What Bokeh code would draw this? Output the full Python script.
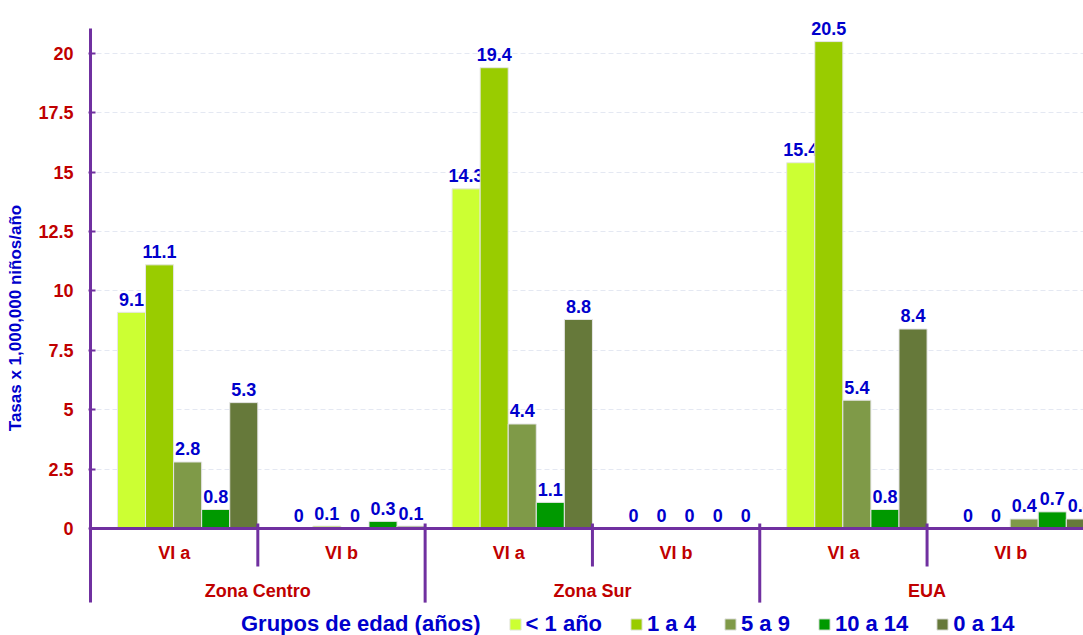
import numpy as np
from bokeh.plotting import figure
from bokeh.models import (ColumnDataSource, FixedTicker, Legend, LegendItem, Label, Range1d)
from bokeh.core.properties import value
from bokeh.embed import file_html
from bokeh.resources import INLINE

# ---------------- data ----------------
title_text = "Tasas de incidencia por zona y estado, por grupos de edad"
y_title = "Tasas x 1,000,000 niños/año"
legend_title = "Grupos de edad (años)"
zones = ["Zona Centro", "Zona Sur", "EUA"]
subgroups = ["VI a", "VI b", "VI a", "VI b", "VI a", "VI b"]
series = ["< 1 año", "1 a 4", "5 a 9", "10 a 14", "0 a 14"]
lt1 = [9.1, 0, 14.3, 0, 15.4, 0]
a1_4 = [11.1, 0.1, 19.4, 0, 20.5, 0]
a5_9 = [2.8, 0, 4.4, 0, 5.4, 0.4]
a10_14 = [0.8, 0.3, 1.1, 0, 0.8, 0.7]
a0_14 = [5.3, 0.1, 8.8, 0, 8.4, 0.4]
y_ticks = [0, 2.5, 5, 7.5, 10, 12.5, 15, 17.5, 20]
y_tick_labels = ["0", "2.5", "5", "7.5", "10", "12.5", "15", "17.5", "20"]

values = [lt1, a1_4, a5_9, a10_14, a0_14]
colors = ["#CCFF33", "#99CC00", "#7F9A48", "#009900", "#66793A"]

# ---------------- styles ----------------
FONT = value("Liberation Sans")
BLUE = "#0000CC"
RED = "#C00000"
PURPLE = "#7030A0"

p = figure(width=1083, height=635, output_backend="svg", toolbar_location=None,
           x_range=Range1d(-0.012, 5.935), y_range=Range1d(-4.505, 22.23),
           x_axis_location=None, min_border_left=88, min_border_right=0,
           min_border_top=0, min_border_bottom=0)
p.outline_line_color = None
p.xgrid.visible = False
p.ygrid.ticker = FixedTicker(ticks=y_ticks[1:])
p.ygrid.grid_line_color = "#E4E8F2"
p.ygrid.grid_line_dash = "5 3"
p.ygrid.grid_line_width = 1

ax = p.yaxis[0]
ax.ticker = FixedTicker(ticks=y_ticks)
ax.major_label_overrides = {t: l for t, l in zip(y_ticks, y_tick_labels)}
ax.axis_line_color = None
ax.major_tick_in = 7
ax.major_tick_out = 0
ax.major_tick_line_color = PURPLE
ax.major_tick_line_width = 2
ax.minor_tick_line_color = None
ax.major_label_text_color = RED
ax.major_label_text_font = "Liberation Sans"
ax.major_label_text_font_style = "bold"
ax.major_label_text_font_size = "18px"
ax.major_label_standoff = 15
ax.axis_label = y_title
ax.axis_label_text_color = BLUE
ax.axis_label_text_font = "Liberation Sans"
ax.axis_label_text_font_style = "bold"
ax.axis_label_text_font_size = "17px"
ax.axis_label_standoff = 10

n = len(subgroups)
idx = np.arange(n)
bw = (1 - 0.161) / len(series)
start = 0.161

renderers = []
for k, (name, vals, col) in enumerate(zip(series, values, colors)):
    xs = idx + start + bw * (k + 0.5)
    src = ColumnDataSource(dict(x=xs, top=vals, lab=[f"{v:g}" for v in vals]))
    r = p.vbar(x="x", top="top", bottom=0, width=bw, source=src,
               fill_color=col, line_color="#E6E6E6", line_width=1)
    renderers.append(r)
    p.text(x="x", y="top", text="lab", source=src, text_align="center",
           text_baseline="alphabetic", y_offset=-13, text_font=FONT,
           text_font_style="bold", text_font_size="18px", text_color=BLUE)

# axes lines, category separators and labels
p.segment(x0=[0], x1=[0], y0=[-3.12], y1=[21.05], line_color=PURPLE, line_width=3)
p.segment(x0=[0], x1=[n], y0=[0], y1=[0], line_color=PURPLE, line_width=3)
short = idx[1::2]
long_ = idx[2::2]
p.segment(x0=short, x1=short, y0=0.21, y1=-1.6, line_color=PURPLE, line_width=3)
p.segment(x0=long_, x1=long_, y0=0.21, y1=-3.12, line_color=PURPLE, line_width=3)
p.text(x=idx + 0.5, y=-1.05, text=subgroups, text_align="center", text_baseline="middle",
       text_font=FONT, text_font_style="bold", text_font_size="18px", text_color=RED)
p.text(x=np.arange(len(zones)) * 2 + 1, y=-2.63, text=zones, text_align="center",
       text_baseline="middle", text_font=FONT, text_font_style="bold",
       text_font_size="18px", text_color=RED)

# legend
dummy = p.scatter(x=[-1], y=[-10], marker="square", fill_alpha=0, line_alpha=0)
items = [LegendItem(label=legend_title, renderers=[dummy])]
items += [LegendItem(label=s, renderers=[r]) for s, r in zip(series, renderers)]
legend = Legend(items=items, orientation="horizontal", location=(135, -2),
                label_text_font="Liberation Sans", label_text_font_style="bold",
                label_text_font_size="22px", label_text_color=BLUE,
                glyph_width=14, glyph_height=14, label_standoff=4, spacing=27,
                padding=0, margin=0, border_line_color=None, background_fill_alpha=0)
p.add_layout(legend)

title = Label(x=66, y=650, x_units="screen", y_units="screen", text=title_text,
              text_font="Liberation Sans", text_font_style="bold", text_font_size="24px",
              text_color=BLUE, text_baseline="alphabetic")
p.add_layout(title)

open("out.html", "w").write(file_html(p, INLINE))
